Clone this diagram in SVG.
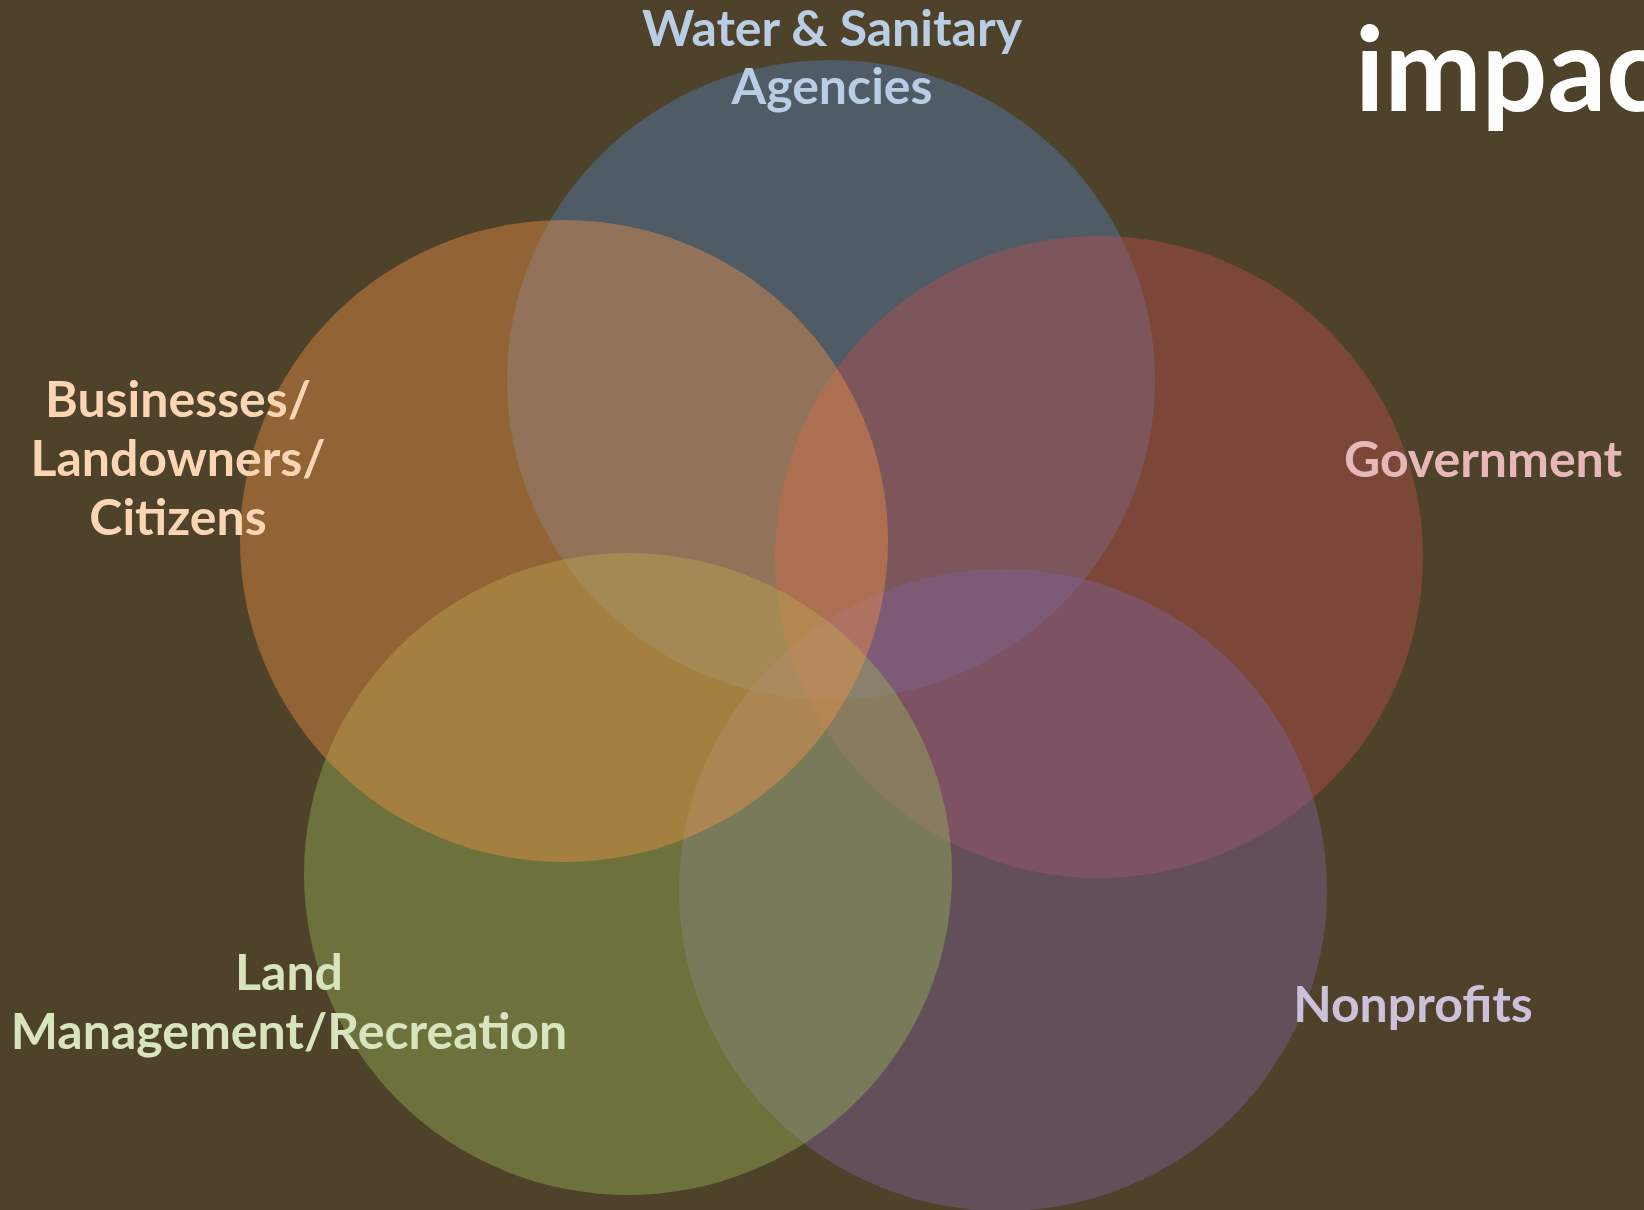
<svg xmlns="http://www.w3.org/2000/svg" width="1644" height="1210" viewBox="0 0 1644 1210">
<style>
.c{fill-opacity:0.4;stroke:none}
.t{font-family:Lato,"Open Sans","Liberation Sans",sans-serif;font-weight:bold;font-size:50px;text-anchor:middle}
</style>
<rect width="1644" height="1210" fill="#4F422A"/>
<g id="water"><ellipse class="c" cx="831" cy="380" rx="324" ry="320" fill="#4F81BD"/></g>
<g id="government"><ellipse class="c" cx="1099" cy="557" rx="324" ry="321" fill="#C0504D"/></g>
<g id="nonprofits"><ellipse class="c" cx="1003" cy="890" rx="324" ry="321" fill="#8064A2"/></g>
<g id="land"><ellipse class="c" cx="628" cy="874" rx="324" ry="321" fill="#9BBB59"/></g>
<g id="businesses"><ellipse class="c" cx="564" cy="541" rx="324" ry="321" fill="#F79646"/></g>
<g id="labels">
<text class="t" fill="#B9CDE5" x="832" y="46">Water &amp; Sanitary</text>
<text class="t" fill="#B9CDE5" x="832" y="104">Agencies</text>
<text class="t" fill="#FCD5B5" x="178" y="417">Businesses/</text>
<text class="t" fill="#FCD5B5" x="178" y="476">Landowners/</text>
<text class="t" fill="#FCD5B5" x="178" y="535">Citizens</text>
<text class="t" fill="#E6B9B8" x="1483" y="477">Government</text>
<text class="t" fill="#CCC1DA" x="1413" y="1022">Nonprofits</text>
<text class="t" fill="#D7E4BD" x="289" y="990">Land</text>
<text class="t" fill="#D7E4BD" x="289" y="1049">Management/Recreation</text>
</g>
<text x="1355" y="111" font-family="Lato,'Open Sans','Liberation Sans',sans-serif" font-weight="bold" font-size="116" fill="#FFFFFF">impact</text>
</svg>
